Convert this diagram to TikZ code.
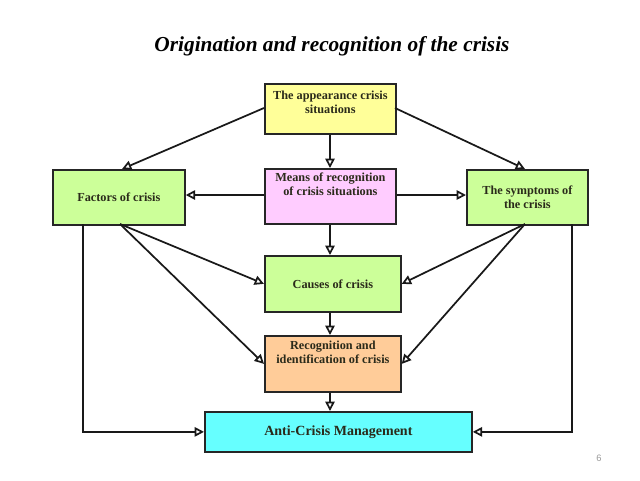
\documentclass[tikz,border=0pt]{standalone}
\usepackage{fontspec}
\setmainfont{Liberation Serif}
\setsansfont{Liberation Sans}
\usetikzlibrary{arrows.meta}
\definecolor{cyellow}{HTML}{FFFF99}
\definecolor{cpink}{HTML}{FFCCFF}
\definecolor{cgreen}{HTML}{CCFF99}
\definecolor{cpeach}{HTML}{FFCC99}
\definecolor{ccyan}{HTML}{66FFFF}
\definecolor{ctext}{HTML}{2A2A1A}
\tikzset{
  box/.style={draw=black!85, line width=1.3pt, inner sep=2pt, align=center, text=ctext, font=\bfseries\fontsize{9.2}{10.5}\selectfont},
  conn/.style={line width=1.3pt, draw=black!90, -{Triangle[open, length=7pt, width=7pt, fill=white]}},
}
\begin{document}
\begin{tikzpicture}[x=0.75pt, y=-0.75pt]
\useasboundingbox (0,0) rectangle (640,480);
\node[font=\bfseries\itshape\fontsize{16}{18}\selectfont] (title) at (332,46) {Origination and recognition of the crisis};
% boxes
\node[box, fill=cyellow, minimum width=131*0.75pt, minimum height=50*0.75pt, anchor=north west] (app) at (264,83) {};
\node[box, draw=none, fill=none, anchor=north] (appt) at (app.north) [yshift=-3pt] {The appearance crisis\\situations};
\node[box, fill=cpink, minimum width=131*0.75pt, minimum height=55*0.75pt, anchor=north west] (means) at (264,168) {};
\node[box, draw=none, fill=none, anchor=north] (meanst) at (means.north) [yshift=-1pt] {Means of recognition\\of crisis situations};
\node[box, fill=cgreen, minimum width=132*0.75pt, minimum height=55*0.75pt, anchor=north west] (fact) at (52,169) {Factors of crisis};
\node[box, fill=cgreen, minimum width=121*0.75pt, minimum height=55*0.75pt, anchor=north west] (symp) at (466,169) {The symptoms of\\the crisis};
\node[box, fill=cgreen, minimum width=136*0.75pt, minimum height=56*0.75pt, anchor=north west] (cause) at (264,255) {Causes of crisis};
\node[box, fill=cpeach, minimum width=136*0.75pt, minimum height=56*0.75pt, anchor=north west] (recog) at (264,335) {};
\node[box, draw=none, fill=none, anchor=north] (recogt) at (recog.north) [yshift=-2pt] {Recognition and\\identification of crisis};
\node[box, fill=ccyan, minimum width=267*0.75pt, minimum height=40*0.75pt, anchor=north west, font=\bfseries\fontsize{10.5}{12}\selectfont] (anti) at (204,411) {Anti-Crisis Management};
% coordinates
\coordinate (appL) at (264,108);
\coordinate (appR) at (395,108);
\coordinate (factT) at (122,169);
\coordinate (sympT) at (525,169);
\coordinate (factB) at (120,224);
\coordinate (sympB) at (525,224);
\coordinate (factBL) at (83,224);
\coordinate (sympBR) at (572,224);
\coordinate (vx) at (330,0);
\coordinate (hy) at (0,195);
% connectors
\draw[conn] (appL) -- (factT);
\draw[conn] (appR) -- (sympT);
\draw[conn] (app.south -| vx) -- (means.north -| vx);
\draw[conn] (means.west |- hy) -- (fact.east |- hy);
\draw[conn] (means.east |- hy) -- (symp.west |- hy);
\draw[conn] (means.south -| vx) -- (cause.north -| vx);
\draw[conn] (factB) -- (cause.west);
\draw[conn] (factB) -- (recog.west);
\draw[conn] (sympB) -- (cause.east);
\draw[conn] (sympB) -- (recog.east);
\draw[conn] (cause.south -| vx) -- (recog.north -| vx);
\draw[conn] (recog.south -| vx) -- (anti.north -| vx);
\draw[conn] (factBL) |- (anti.west);
\draw[conn] (sympBR) |- (anti.east);
\node[font=\sffamily\fontsize{7}{8}\selectfont, text=black!40] (pg) at (599,458) {6};
\end{tikzpicture}
\end{document}
